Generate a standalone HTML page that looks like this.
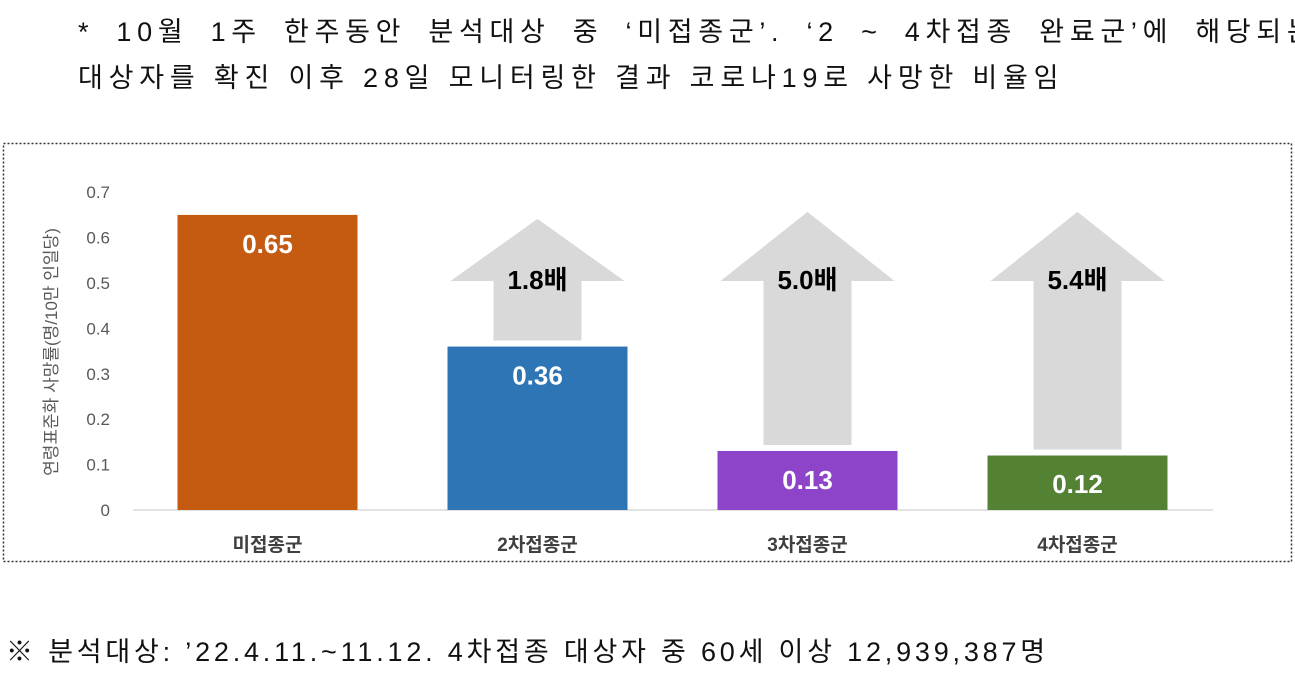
<!DOCTYPE html>
<html><head><meta charset="utf-8"><style>
body{margin:0;width:1295px;height:673px;background:#fff;overflow:hidden;font-family:"Liberation Sans","Noto Sans CJK KR",sans-serif}
.t{position:absolute;font-size:27px;color:#111;white-space:nowrap}
</style></head><body>
<div class="t" style="left:78px;top:10px;word-spacing:9px;letter-spacing:5.7px">* 10월 1주 한주동안 분석대상 중 ‘미접종군’. ‘2 ~ 4차접종 완료군’에 해당되는</div>
<div class="t" style="left:78px;top:56px;letter-spacing:5.8px">대상자를 확진 이후 28일 모니터링한 결과 코로나19로 사망한 비율임</div>
<svg width="1295" height="673" style="position:absolute;left:0;top:0" id="c"></svg>
<div class="t" style="left:6px;top:630px;letter-spacing:3.8px">※ 분석대상: ’22.4.11.~11.12. 4차접종 대상자 중 60세 이상 12,939,387명</div>
<script>
const categories=["미접종군","2차접종군","3차접종군","4차접종군"];
const values=[0.65,0.36,0.13,0.12];
const colors=["#c55a11","#2e75b6","#8e44c8","#548235"];
const ratios=[null,"1.8배","5.0배","5.4배"];
const ticks=[0,0.1,0.2,0.3,0.4,0.5,0.6,0.7];
const svg=document.getElementById('c');const NS="http://www.w3.org/2000/svg";
function y(v){return 510-v*454;}
function x(i){return 267.5+i*270;}
function mk(t,a,txt){const e=document.createElementNS(NS,t);for(const k in a)e.setAttribute(k,a[k]);if(txt!=null)e.textContent=txt;svg.appendChild(e);return e;}
let e=mk('rect',{x:3.5,y:143.5,width:1288,height:418,fill:'none',stroke:'#333','stroke-width':1.5,'stroke-dasharray':'2 2'});

ticks.forEach(t=>{const l=mk('text',{x:110,y:y(t)+6,'text-anchor':'end','font-size':17,fill:'#595959'},String(t));
});
e=mk('line',{x1:133,x2:1213,y1:510,y2:510,stroke:'#d9d9d9','stroke-width':1.5});

e=mk('text',{transform:'translate(57,352) rotate(-90)','text-anchor':'middle','font-size':17,fill:'#595959'},'연령표준화 사망률(명/10만 인일당)');

values.forEach((v,i)=>{const cx=x(i);
 if(ratios[i]){const top=y(values[0])+(i==1?4:-3),base=281,bot=y(v)-6;
  const a=mk('polygon',{points:`${cx},${top} ${cx+87},${base} ${cx+44},${base} ${cx+44},${bot} ${cx-44},${bot} ${cx-44},${base} ${cx-87},${base}`,fill:'#d9d9d9'});
  
  const r=mk('text',{x:cx,y:289,'text-anchor':'middle','font-size':26,'font-weight':'bold',fill:'#000'},ratios[i]);
  }
 const b=mk('rect',{x:cx-90,y:y(v),width:180,height:510-y(v),fill:colors[i]});
 
 const ly=Math.min(y(v)+38,493);
 const t=mk('text',{x:cx,y:ly,'text-anchor':'middle','font-size':26,'font-weight':'bold',fill:'#fff'},v.toFixed(2));
 
 const c=mk('text',{x:cx,y:551,'text-anchor':'middle','font-size':19,'font-weight':'bold',fill:'#404040'},categories[i]);
 
});
</script>
</body></html>
